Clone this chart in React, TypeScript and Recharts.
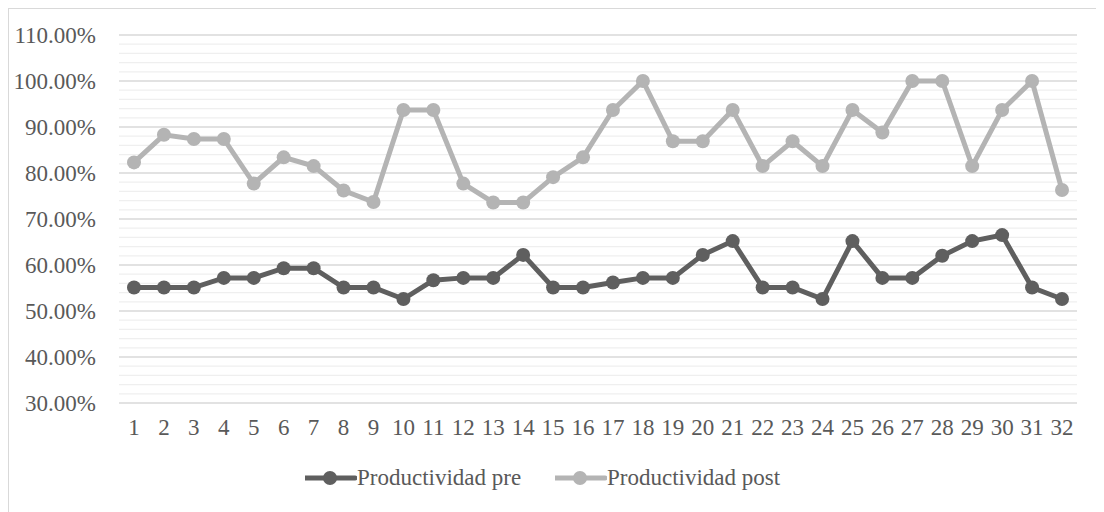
import { LineChart, Line, XAxis, YAxis, CartesianGrid, Legend } from 'recharts'

const dias = [
  '1', '2', '3', '4', '5', '6', '7', '8', '9', '10', '11', '12', '13', '14', '15', '16',
  '17', '18', '19', '20', '21', '22', '23', '24', '25', '26', '27', '28', '29', '30', '31', '32',
]

// productividad (%) antes y después de la mejora
const productividadPre = [
  55.1, 55.1, 55.1, 57.2, 57.2, 59.3, 59.3, 55.1, 55.1, 52.6, 56.7, 57.2, 57.2, 62.2, 55.1, 55.1,
  56.2, 57.2, 57.2, 62.2, 65.2, 55.1, 55.1, 52.6, 65.2, 57.2, 57.2, 62.0, 65.2, 66.5, 55.1, 52.6,
]
const productividadPost = [
  82.3, 88.3, 87.4, 87.4, 77.7, 83.4, 81.5, 76.2, 73.7, 93.7, 93.7, 77.7, 73.6, 73.6, 79.1, 83.4,
  93.7, 100, 86.9, 86.9, 93.7, 81.5, 86.9, 81.5, 93.7, 88.8, 100, 100, 81.5, 93.7, 100, 76.3,
]

const yTicks = [30, 40, 50, 60, 70, 80, 90, 100, 110]
// líneas secundarias cada 2%
const yMinorTicks = yTicks.slice(0, -1).flatMap((t) => [t + 2, t + 4, t + 6, t + 8])

const PRE_COLOR = '#5f5f5f'
const POST_COLOR = '#b4b4b4'
const TEXT_COLOR = '#595959'
const FONT = '"Liberation Serif", "Times New Roman", serif'
const FONT_SIZE = 23

const data = dias.map((dia, i) => ({
  dia,
  pre: productividadPre[i],
  post: productividadPost[i],
}))

const series = [
  { key: 'pre', name: 'Productividad pre', color: PRE_COLOR },
  { key: 'post', name: 'Productividad post', color: POST_COLOR },
]

const LegendContent = () => (
  <div style={{ display: 'flex', paddingLeft: 296, fontFamily: FONT, fontSize: FONT_SIZE, color: TEXT_COLOR }}>
    {series.map((s) => (
      <div key={s.key} style={{ display: 'flex', alignItems: 'center', width: 250 }}>
        <svg width={52} height={16}>
          <line x1={0} y1={8} x2={50} y2={8} stroke={s.color} strokeWidth={5} strokeLinecap="round" />
          <circle cx={25} cy={8} r={7} fill={s.color} />
        </svg>
        <span>{s.name}</span>
      </div>
    ))}
  </div>
)

export default function App() {
  return (
    <div style={{ width: 1100, height: 510, border: '1px solid #d9d9d9', background: '#fff' }}>
      <LineChart
        width={1090}
        height={500}
        data={data}
        margin={{ top: 26, right: 22, left: 0, bottom: 0 }}
      >
        <CartesianGrid vertical={false} stroke="#efefef" strokeWidth={1.3} horizontalValues={yMinorTicks} />
        <CartesianGrid vertical={false} stroke="#d9d9d9" strokeWidth={1.3} />
        <XAxis
          dataKey="dia"
          axisLine={false}
          tickLine={false}
          tickSize={6}
          tickMargin={10}
          height={44}
          interval={0}
          padding={{ left: 15, right: 15 }}
          tick={{ fill: TEXT_COLOR, fontSize: FONT_SIZE, fontFamily: FONT }}
        />
        <YAxis
          domain={[30, 110]}
          ticks={yTicks}
          interval={0}
          axisLine={false}
          tickLine={false}
          tickSize={6}
          tickMargin={17}
          width={110}
          tickFormatter={(v: number) => `${v.toFixed(2)}%`}
          tick={{ fill: TEXT_COLOR, fontSize: FONT_SIZE, fontFamily: FONT }}
        />
        <Legend
          verticalAlign="bottom"
          content={<LegendContent />}
          wrapperStyle={{ left: 0, width: 1090, height: 62, display: 'flex', alignItems: 'center' }}
        />
        {series.map((s) => (
          <Line
            key={s.key}
            dataKey={s.key}
            name={s.name}
            stroke={s.color}
            strokeWidth={5}
            dot={{ r: 7, fill: s.color, stroke: s.color, strokeWidth: 0 }}
            activeDot={false}
            isAnimationActive={false}
          />
        ))}
      </LineChart>
    </div>
  )
}
